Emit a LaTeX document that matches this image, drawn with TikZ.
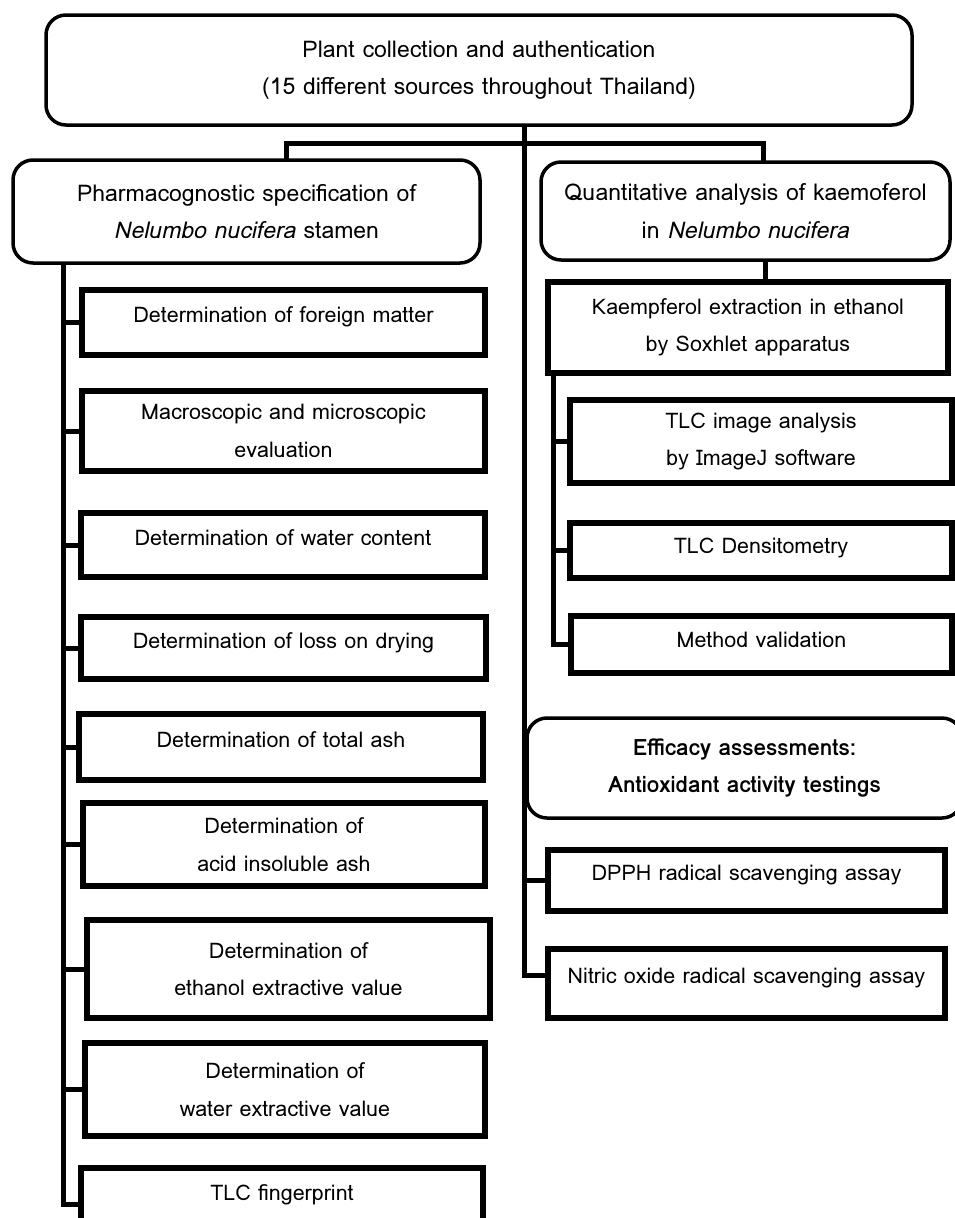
\documentclass[tikz,border=0pt]{standalone}
\usepackage{fontspec}
\setmainfont{Loma}
\begin{document}
\begin{tikzpicture}[x=1pt,y=-1pt,
  every node/.style={font=\fontsize{21.5}{37.5}\selectfont, inner sep=0pt, outer sep=0pt},
  rbox/.style={draw, line width=3.5pt, rounded corners=20pt, align=center, font=\fontsize{23}{37.5}\selectfont},
  sbox/.style={draw, line width=6pt, align=center},
  oneline/.style={text height=14pt, text depth=14pt},
  onelow/.style={text height=14pt, text depth=8pt},
  conn/.style={line width=5pt}]
\useasboundingbox (0,0) rectangle (954,1218);
% header boxes
\node[rbox, minimum width=866pt, minimum height=110pt] (top) at (479,70)
  {Plant collection and authentication\\(15 different sources throughout Thailand)};
\node[rbox, minimum width=467pt, minimum height=103pt] (pharm) at (246.5,211.5)
  {Pharmacognostic specification of\\\textit{Nelumbo nucifera} stamen};
\node[rbox, minimum width=409pt, minimum height=98pt] (quant) at (745.5,211)
  {Quantitative analysis of kaemoferol\\in \textit{Nelumbo nucifera}};
% left column
\node[sbox, oneline, minimum width=403pt, minimum height=65pt] (b1) at (283.5,322.5) {Determination of foreign matter};
\node[sbox, minimum width=403pt, minimum height=80pt] (b2) at (283.5,431) {Macroscopic and microscopic\\evaluation};
\node[sbox, oneline, minimum width=404pt, minimum height=64pt] (b3) at (283,545) {Determination of water content};
\node[sbox, oneline, minimum width=405pt, minimum height=62pt] (b4) at (283.5,648) {Determination of loss on drying};
\node[sbox, oneline, minimum width=404pt, minimum height=66pt] (b5) at (281,747) {Determination of total ash};
\node[sbox, minimum width=402pt, minimum height=83pt] (b6) at (284,844.5) {Determination of\\acid insoluble ash};
\node[sbox, minimum width=403pt, minimum height=98pt] (b7) at (288.5,969) {Determination of\\ethanol extractive value};
\node[sbox, minimum width=400pt, minimum height=93pt] (b8) at (285,1089.5) {Determination of\\water extractive value};
\node[sbox, text height=14pt, text depth=22pt, minimum width=402pt, minimum height=72pt] (b9) at (282,1204) {TLC fingerprint};
% right column
\node[sbox, minimum width=400pt, minimum height=91pt] (kaemp) at (748,327.5) {Kaempferol extraction in ethanol\\by Soxhlet apparatus};
\node[sbox, minimum width=382pt, minimum height=83pt] (tlc) at (761,441.5) {TLC image analysis\\by ImageJ software};
\node[sbox, onelow, minimum width=382pt, minimum height=55pt] (dens) at (761,550.5) {TLC Densitometry};
\node[sbox, onelow, minimum width=381pt, minimum height=57pt] (meth) at (761.5,644.5) {Method validation};
\node[rbox, minimum width=435pt, minimum height=100pt, font=\fontsize{22.5}{37.5}\selectfont\bfseries] (eff) at (744.5,768) {Efficacy assessments:\\Antioxidant activity testings};
\node[sbox, oneline, minimum width=397pt, minimum height=61pt] (dpph) at (746.5,880.5) {DPPH radical scavenging assay};
\node[sbox, oneline, minimum width=397pt, minimum height=69pt] (nitric) at (746.5,983.5) {Nitric oxide radical scavenging assay};
% connector guide coordinates
\coordinate (mainx) at (524,0);
\coordinate (lx) at (63,0);
\coordinate (hl) at (286,143);
\coordinate (hr) at (763,143);
\coordinate (qx) at (765,0);
\coordinate (sx) at (553,0);
% connectors
\draw[conn] (top.south -| mainx) |- ([yshift=8.5pt]nitric.west);
\draw[conn] (mainx |- dpph.west) -- (dpph.west);
\draw[conn] (pharm.north -| hl) -- (hl) -- (hr) -- (quant.north -| hr);
\draw[conn] (pharm.south -| lx) |- (b9.west);
\foreach \b in {b1,b2,b3,b4,b5,b6,b7,b8} \draw[conn] (lx |- \b.west) -- (\b.west);
\draw[conn] (quant.south -| qx) -- (kaemp.north -| qx);
\draw[conn] (kaemp.south -| sx) |- (meth.west);
\draw[conn] (sx |- tlc.west) -- (tlc.west);
\draw[conn] (sx |- dens.west) -- (dens.west);
\end{tikzpicture}
\end{document}
